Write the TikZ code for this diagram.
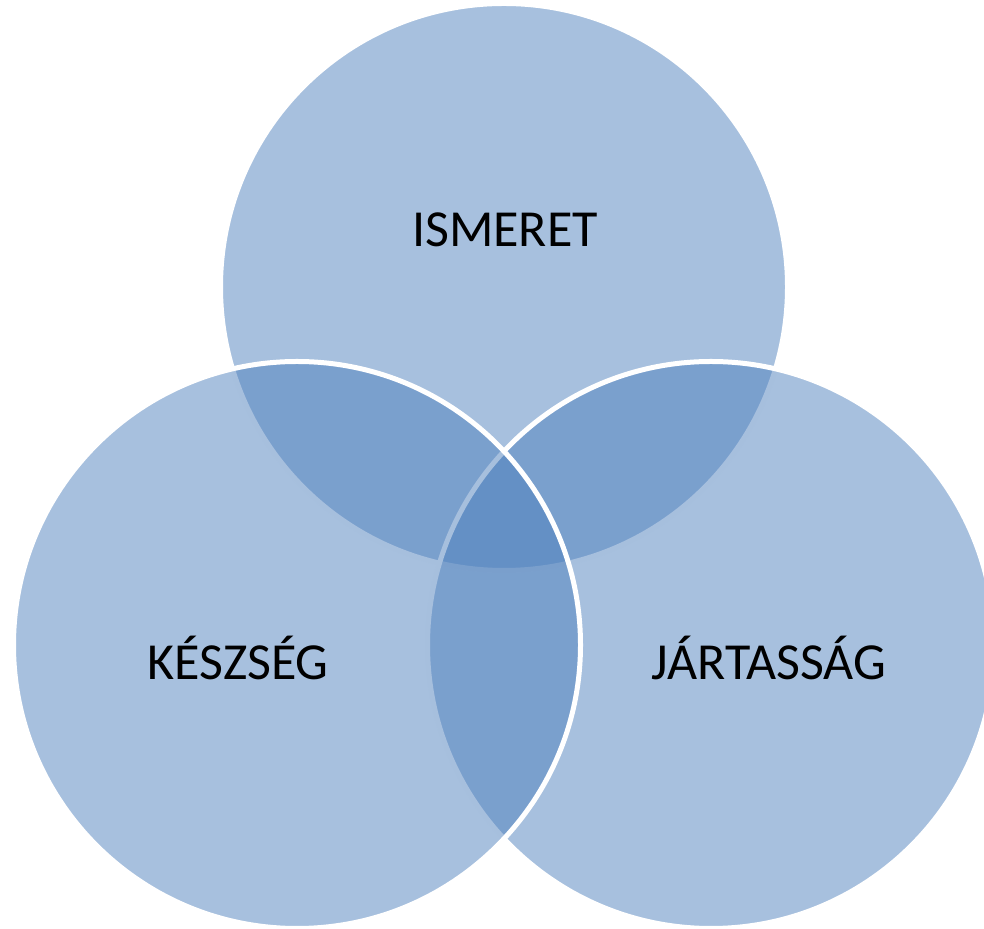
\documentclass[tikz,border=0pt]{standalone}
\usepackage{fontspec}
\setmainfont{Carlito}
\definecolor{accent}{RGB}{79,129,189}
\tikzset{
  venn/.style={circle, minimum size=567pt, inner sep=0pt, fill=accent, fill opacity=0.5, draw=white, draw opacity=1, line width=5pt},
  lbl/.style={anchor=base, font=\fontsize{52}{60}\selectfont, text=black, inner sep=0pt}
}
\begin{document}
\begin{tikzpicture}[x=1pt,y=1pt]
\useasboundingbox (0,0) rectangle (984,928);
\node[venn] (top) at (504,641) {};
\node[venn] (right) at (711,283) {};
\node[venn] (left) at (297,283) {};
\node[lbl] (t1) at (505,681) {ISMERET};
\node[lbl] (t2) at (238,248) {KÉSZSÉG};
\node[lbl] (t3) at (769,248) {JÁRTASSÁG};
\end{tikzpicture}
\end{document}
